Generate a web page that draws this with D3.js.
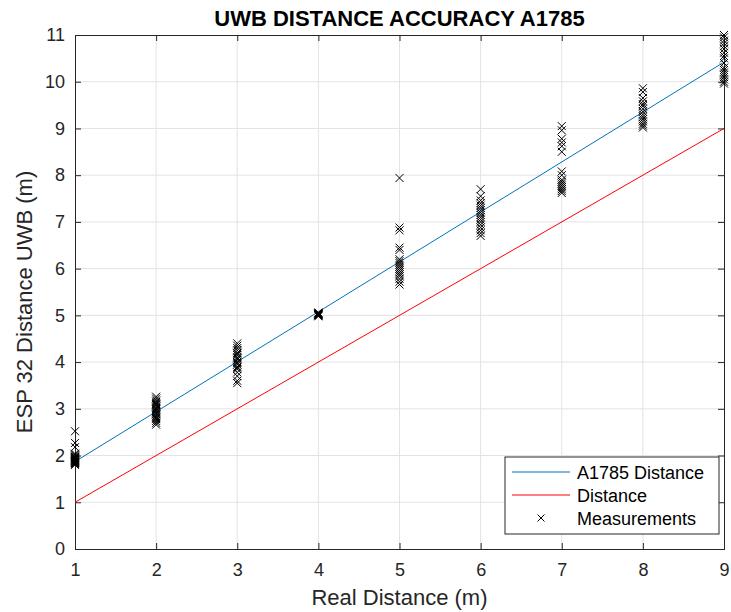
<!DOCTYPE html>
<html>
<head>
<meta charset="utf-8">
<script src="https://cdn.jsdelivr.net/npm/d3@7"></script>
<style>
  html, body { margin: 0; padding: 0; background: #fff; }
  svg { display: block; font-family: "Liberation Sans", Arial, sans-serif; }
</style>
</head>
<body>
<svg id="chart" width="731" height="612"></svg>
<script>
// Reference distances and the two straight lines
const realDistance = [1, 2, 3, 4, 5, 6, 7, 8, 9];
const fitLineX = [1, 9];
const fitLineY = [1.87, 10.42];
const idealLineX = [1, 9];
const idealLineY = [1, 9];

// UWB readings taken at each real distance (m)
const meas1 = [1.80, 1.82, 1.84, 1.85, 1.86, 1.87, 1.88, 1.89, 1.90, 1.91, 1.92, 1.93, 1.94, 1.95, 1.96, 1.97, 1.98, 2.00, 2.02, 2.04, 2.18, 2.27, 2.52];
const meas2 = [2.66, 2.70, 2.74, 2.78, 2.80, 2.82, 2.85, 2.88, 2.90, 2.92, 2.95, 2.98, 3.00, 3.02, 3.05, 3.08, 3.10, 3.12, 3.15, 3.18, 3.22, 3.26];
const meas3 = [3.55, 3.60, 3.70, 3.78, 3.85, 3.88, 3.90, 3.95, 3.98, 4.00, 4.05, 4.08, 4.10, 4.15, 4.18, 4.20, 4.25, 4.30, 4.35, 4.40];
const meas4 = [4.98, 5.00, 5.00, 5.01, 5.02, 5.02, 5.03, 5.04, 5.04, 5.05, 5.06];
const meas5 = [5.66, 5.72, 5.78, 5.84, 5.88, 5.92, 5.96, 6.00, 6.04, 6.08, 6.12, 6.16, 6.20, 6.40, 6.45, 6.82, 6.88, 7.94];
const meas6 = [6.70, 6.76, 6.82, 6.88, 6.94, 7.00, 7.05, 7.10, 7.15, 7.20, 7.25, 7.30, 7.35, 7.40, 7.46, 7.55, 7.70];
const meas7 = [7.62, 7.66, 7.70, 7.74, 7.78, 7.82, 7.86, 7.90, 8.00, 8.08, 8.50, 8.62, 8.70, 8.78, 8.96, 9.05];
const meas8 = [9.02, 9.06, 9.10, 9.15, 9.20, 9.25, 9.30, 9.36, 9.42, 9.48, 9.52, 9.58, 9.65, 9.78, 9.86];
const meas9 = [9.96, 10.00, 10.05, 10.10, 10.15, 10.20, 10.25, 10.30, 10.40, 10.50, 10.55, 10.62, 10.70, 10.76, 10.82, 10.88, 10.95, 11.00];

const xTicks = [1, 2, 3, 4, 5, 6, 7, 8, 9];
const yTicks = [0, 1, 2, 3, 4, 5, 6, 7, 8, 9, 10, 11];

const measurements = [meas1, meas2, meas3, meas4, meas5, meas6, meas7, meas8, meas9];
const points = [];
measurements.forEach((vals, i) => vals.forEach(v => points.push({ x: realDistance[i], y: v })));

const svg = d3.select("#chart");
const margin = { left: 75, right: 7, top: 35, bottom: 63 };
const W = 731, H = 612;
const x = d3.scaleLinear().domain([1, 9]).range([margin.left, W - margin.right]);
const y = d3.scaleLinear().domain([0, 11]).range([H - margin.bottom, margin.top]);
const axisColor = "#262626";

// grid
svg.append("g").selectAll("line").data(xTicks.slice(1, -1)).join("line")
  .attr("x1", d => x(d)).attr("x2", d => x(d))
  .attr("y1", y(0)).attr("y2", y(11))
  .attr("stroke", "#e3e3e3").attr("stroke-width", 1);
svg.append("g").selectAll("line").data(yTicks.slice(1, -1)).join("line")
  .attr("x1", x(1)).attr("x2", x(9))
  .attr("y1", d => y(d)).attr("y2", d => y(d))
  .attr("stroke", "#e3e3e3").attr("stroke-width", 1);

// axes (ticks point inward)
const tickLen = 6;
const gx = svg.append("g").attr("transform", `translate(0,${y(0)})`)
  .call(d3.axisBottom(x).tickValues(xTicks).tickSize(-tickLen).tickPadding(14).tickFormat(d3.format("d")));
const gxTop = svg.append("g").attr("transform", `translate(0,${y(11)})`)
  .call(d3.axisTop(x).tickValues(xTicks).tickSize(-tickLen).tickFormat(""));
const gy = svg.append("g").attr("transform", `translate(${x(1)},0)`)
  .call(d3.axisLeft(y).tickValues(yTicks).tickSize(-tickLen).tickPadding(10).tickFormat(d3.format("d")));
const gyRight = svg.append("g").attr("transform", `translate(${x(9)},0)`)
  .call(d3.axisRight(y).tickValues(yTicks).tickSize(-tickLen).tickFormat(""));

[gx, gxTop, gy, gyRight].forEach(g => {
  g.select(".domain").attr("stroke", axisColor).attr("stroke-width", 1);
  g.selectAll(".tick line").attr("stroke", axisColor);
  g.selectAll(".tick text").attr("fill", axisColor).attr("font-size", 18)
    .attr("font-family", "'Liberation Sans', Arial, sans-serif");
});

// lines
const line = d3.line().x(d => x(d[0])).y(d => y(d[1]));
svg.append("path").datum(d3.zip(fitLineX, fitLineY))
  .attr("d", line).attr("fill", "none").attr("stroke", "#0072BD").attr("stroke-width", 1);
svg.append("path").datum(d3.zip(idealLineX, idealLineY))
  .attr("d", line).attr("fill", "none").attr("stroke", "#FF0000").attr("stroke-width", 1);

// measurement markers
const s = 4;
svg.append("g").selectAll("path").data(points).join("path")
  .attr("d", d => {
    const cx = x(d.x), cy = y(d.y);
    return `M${cx - s},${cy - s}L${cx + s},${cy + s}M${cx - s},${cy + s}L${cx + s},${cy - s}`;
  })
  .attr("stroke", "#000").attr("stroke-width", 1).attr("fill", "none");

// title and axis labels
svg.append("text").attr("x", (x(1) + x(9)) / 2).attr("y", 26)
  .attr("text-anchor", "middle").attr("font-weight", "bold").attr("font-size", 22)
  .attr("fill", "#000").text("UWB DISTANCE ACCURACY A1785");
svg.append("text").attr("x", (x(1) + x(9)) / 2).attr("y", 605)
  .attr("text-anchor", "middle").attr("font-size", 22).attr("fill", axisColor)
  .text("Real Distance (m)");
svg.append("text").attr("transform", `translate(32,${(y(0) + y(11)) / 2 + 10}) rotate(-90)`)
  .attr("text-anchor", "middle").attr("font-size", 22).attr("fill", axisColor)
  .text("ESP 32 Distance UWB (m)");

// legend
const lg = svg.append("g").attr("transform", "translate(505,457)");
lg.append("rect").attr("width", 214).attr("height", 77)
  .attr("fill", "#fff").attr("stroke", axisColor).attr("stroke-width", 1);
const entries = [
  { label: "A1785 Distance", type: "line", color: "#0072BD" },
  { label: "Distance", type: "line", color: "#FF0000" },
  { label: "Measurements", type: "marker", color: "#000" }
];
entries.forEach((e, i) => {
  const ry = 15 + i * 23;
  if (e.type === "line") {
    lg.append("line").attr("x1", 7).attr("x2", 65).attr("y1", ry).attr("y2", ry)
      .attr("stroke", e.color).attr("stroke-width", 1.2);
  } else {
    const cx = 36, k = 3.5;
    lg.append("path").attr("d", `M${cx - k},${ry - k}L${cx + k},${ry + k}M${cx - k},${ry + k}L${cx + k},${ry - k}`)
      .attr("stroke", e.color).attr("stroke-width", 1);
  }
  lg.append("text").attr("x", 72).attr("y", ry + 6.5).attr("font-size", 18)
    .attr("fill", "#000").text(e.label);
});
</script>
</body>
</html>
